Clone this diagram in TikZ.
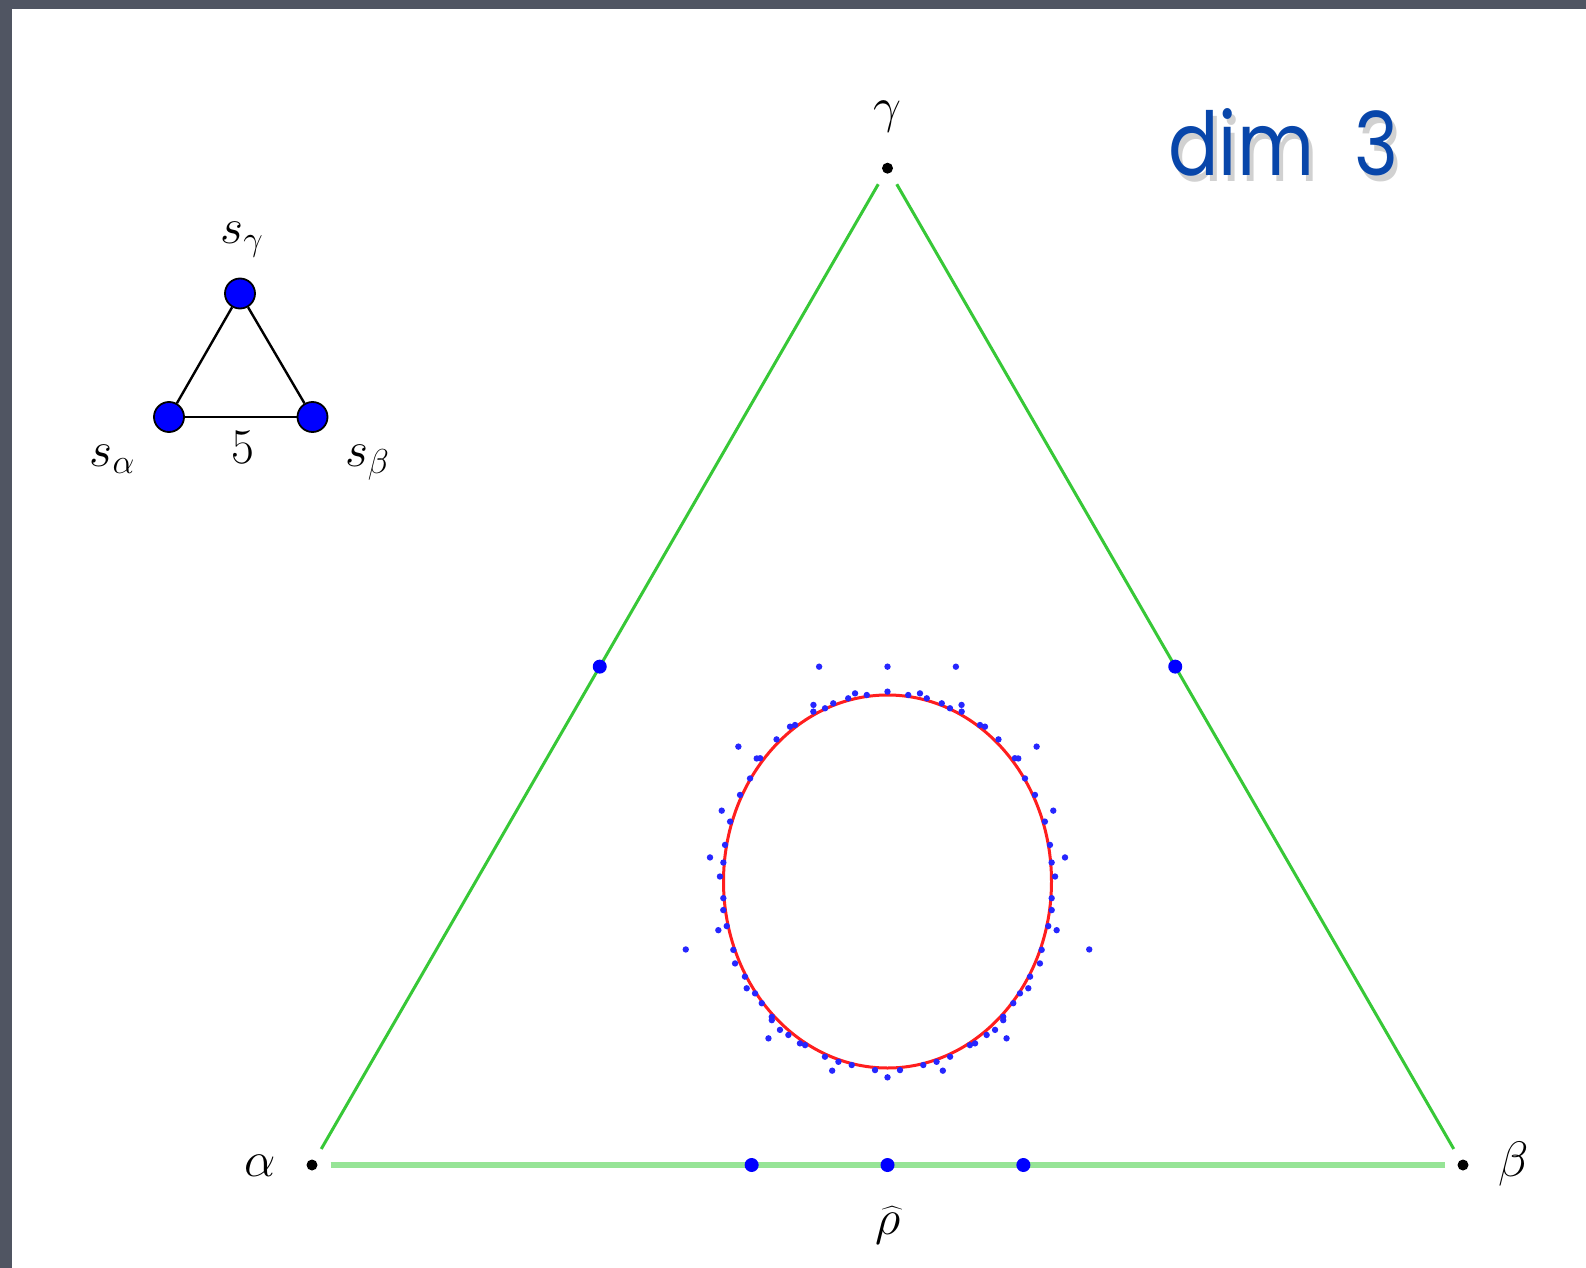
\documentclass[tikz,border=0pt]{standalone}
\usepackage{fontspec}
\newfontfamily\dimfont[FakeStretch=0.85]{Poppins}
\usetikzlibrary{calc}
\definecolor{slate}{RGB}{80,85,98}
\definecolor{sidegreen}{RGB}{55,200,55}
\definecolor{basegreen}{RGB}{150,228,150}
\definecolor{dimblue}{RGB}{8,70,170}
\definecolor{ellred}{RGB}{255,30,30}
\tikzset{
  vdot/.style={circle,fill=black,inner sep=0pt,minimum size=5.5pt},
  bdot/.style={circle,fill=blue,inner sep=0pt,minimum size=7pt},
  sidel/.style={draw=sidegreen,line width=1.5pt,shorten <=6.3pt,shorten >=6.3pt},
  basel/.style={draw=basegreen,line width=3pt,shorten <=6.3pt,shorten >=6.3pt},
  snode/.style={circle,fill=blue,draw=black,line width=0.9pt,inner sep=0pt,minimum size=15pt},
  sedge/.style={draw=black,line width=1.2pt},
  biglab/.style={inner sep=0pt,anchor=base,font=\fontsize{28}{32}\selectfont},
  smalllab/.style={inner sep=0pt,anchor=base,font=\fontsize{24}{28}\selectfont},
  dimtext/.style={inner sep=0pt,anchor=base west,font=\dimfont\fontsize{44}{50}\selectfont},
  sdot/.style={fill=blue!85!white}
}
\begin{document}
\begin{tikzpicture}[x=0.5pt,y=-0.5pt]
\useasboundingbox (0,0) rectangle (1586,1268);
\fill[slate] (0,0) rectangle (1586,1268);
\fill[white] (12,9) rectangle (1586,1268);

% main triangle
\coordinate (A) at (312,1165);
\coordinate (B) at (1463,1165);
\coordinate (G) at (887.5,168.2);
\node[vdot] (a) at (A) {};
\node[vdot] (b) at (B) {};
\node[vdot] (g) at (G) {};
\draw[sidel] (a) -- (g);
\draw[sidel] (b) -- (g);
\draw[basel] (a) -- (b);
\node[bdot] (mag) at ($(A)!0.5!(G)$) {};
\node[bdot] (mbg) at ($(B)!0.5!(G)$) {};
\node[bdot] (m1) at ($(A)!0.381966!(B)$) {};
\node[bdot] (m2) at ($(A)!0.5!(B)$) {};
\node[bdot] (m3) at ($(A)!0.618034!(B)$) {};

\node[biglab] (lg) at (887,123) {$\gamma$};
\node[biglab] (la) at (260,1176) {$\alpha$};
\node[biglab] (lb) at (1514,1176) {$\beta$};
\node[biglab] (lr) at (888,1234) {$\widehat{\rho}$};

% ellipse with scattered points
\coordinate (C) at (887.5,881.5);
\draw[ellred,line width=1.5pt] (C) ellipse [x radius=82pt, y radius=93.25pt];
\foreach \t/\r in {82.8/1.008,78.9/1.028,76.3/1.011,70.9/1.011,67.7/1.004,64.5/1.049,63.6/1.017,56.1/1.011,54.4/1.021,48.4/1.019,40.4/1.02,39.6/1.035,33.4/1.004,27.3/1.012,18.5/1.012,11.2/1.010,5.8/1.006,1.5/1.022,-5.1/1.005,-8.7/1.013,-13.7/1.009,-14.2/1.064,-21.3/1.009,-25.3/1.028,-30.4/1.008,-33.7/1.032,-36.6/1.006,-40.4/1.007,-45.8/1.012,-46.5/1.025,-50.5/1.031,-53.7/1.021,-58.4/1.019,-60.2/1.011,-67.9/1.014,-72.8/1.012,-77.5/1.008,-85.7/1.014,70.1/1.225,38.5/1.162,20.6/1.08,6.8/1.090,-16.5/1.283,-49.2/1.111,-71.6/1.069}{
  \fill[sdot] ($(C)+({164*\r*cos(\t)},{-186.5*\r*sin(\t)})$) circle[radius=1.6pt];
  \fill[sdot] ($(C)+({-164*\r*cos(\t)},{-186.5*\r*sin(\t)})$) circle[radius=1.6pt];
}
\foreach \t/\r in {90/1.018,90/1.152,-90/1.05}{
  \fill[sdot] ($(C)+({164*\r*cos(\t)},{-186.5*\r*sin(\t)})$) circle[radius=1.6pt];
}

% small Coxeter diagram
\node[snode] (sg) at (240,293.5) {};
\node[snode] (sa) at (169,417) {};
\node[snode] (sb) at (312.5,417) {};
\draw[sedge] (sa) -- (sb);
\draw[sedge] (sb) -- (sg);
\draw[sedge] (sg) -- (sa);
\node[smalllab] (lsg) at (242,243) {$s_\gamma$};
\node[smalllab] (lsa) at (112.5,466.5) {$s_\alpha$};
\node[smalllab] (l5) at (242.5,463) {$5$};
\node[smalllab] (lsb) at (367.5,466.5) {$s_\beta$};

% title with soft shadow
\node[dimtext,text=black,opacity=0.18] (sh) at (1172,182) {dim\hspace{0.46em}3};
\node[dimtext,text=dimblue] (dim) at (1168,176) {dim\hspace{0.46em}3};
\end{tikzpicture}
\end{document}
